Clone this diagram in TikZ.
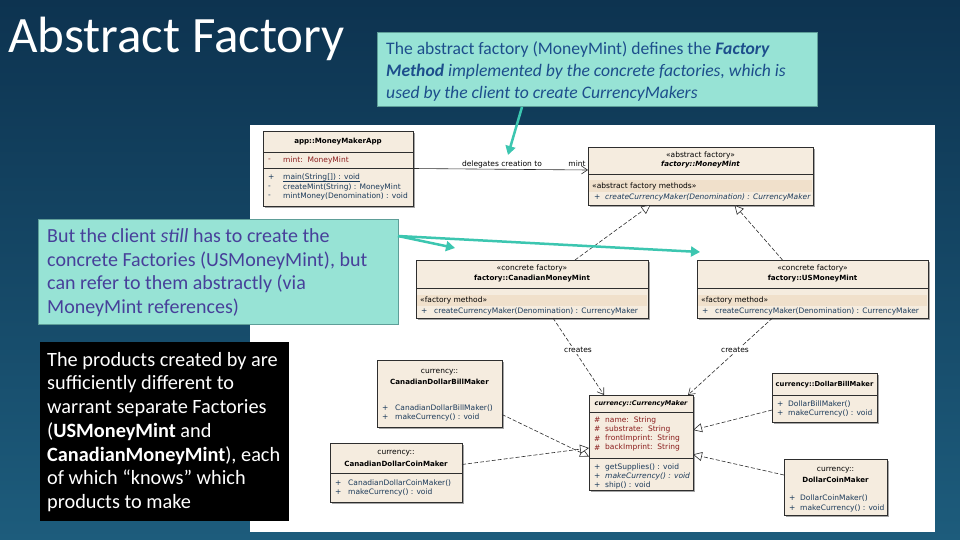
\documentclass[tikz,border=0pt]{standalone}
\usepackage{fontspec}
\setmainfont{Carlito}
\newfontfamily\umlfont{DejaVu Sans}
\usetikzlibrary{arrows.meta,shadows,calc}
\definecolor{bgdark}{HTML}{0D3350}
\definecolor{bglight}{HTML}{1D5C7C}
\definecolor{aqua}{HTML}{97E3D5}
\definecolor{aquaborder}{HTML}{5E9E98}
\definecolor{tealarrow}{HTML}{3CC6B0}
\definecolor{bluetext}{HTML}{1D4E8C}
\definecolor{purpletext}{HTML}{47409A}
\definecolor{umlfill}{HTML}{F5ECDF}
\definecolor{umlband}{HTML}{F0E0CB}
\definecolor{umlline}{HTML}{2E2E2E}
\definecolor{attrred}{HTML}{8A1C1C}
\definecolor{optext}{HTML}{1B3A5A}
\tikzset{
  umlbox/.style={draw=umlline, line width=0.6pt, fill=umlfill, inner sep=0pt, outer sep=0pt, anchor=north west,
    drop shadow={shadow xshift=2pt, shadow yshift=-2pt, fill=black!35, opacity=1}},
  umlsep/.style={draw=umlline, line width=0.6pt},
  ut/.style={font=\umlfont\fontsize{7.5}{8}\selectfont, inner sep=0pt, text=black},
  utb/.style={font=\umlfont\bfseries\fontsize{7.1}{8}\selectfont, inner sep=0pt, text=black},
  utbi/.style={font=\umlfont\bfseries\itshape\fontsize{7.1}{8}\selectfont, inner sep=0pt, text=black},
  uattr/.style={ut, text=attrred, anchor=west},
  uop/.style={ut, text=optext, anchor=west},
  uopi/.style={font=\umlfont\itshape\fontsize{7.5}{8}\selectfont, inner sep=0pt, text=optext, anchor=west},
  realize/.style={draw=umlline, line width=0.6pt, dash pattern=on 4pt off 2pt, -{Triangle[open, length=9pt, width=9pt, fill=white]}},
  depend/.style={draw=umlline, line width=0.6pt, dash pattern=on 4pt off 2pt, -{Straight Barb[length=6pt, width=8pt]}},
  assoc/.style={draw=umlline, line width=0.6pt, -{Straight Barb[length=6pt, width=8pt]}},
  callout/.style={draw=aquaborder, line width=1pt, fill=aqua, inner sep=0pt, outer sep=0pt, anchor=north west},
  tealarr/.style={draw=tealarrow, line width=2.5pt, -{Triangle[length=9pt, width=10pt]}},
  c1/.style={font=\fontsize{17.6}{21}\selectfont, text=bluetext, inner sep=0pt, anchor=base west},
  c2/.style={font=\fontsize{20}{24}\selectfont, text=purpletext, inner sep=0pt, anchor=base west},
  c3/.style={font=\fontsize{20.3}{24}\selectfont, text=white, inner sep=0pt, anchor=base west},
}
\begin{document}
\begin{tikzpicture}[x=1pt, y=-1pt]
\useasboundingbox (0,0) rectangle (960,540);
% background
\shade[top color=bgdark, bottom color=bglight] (0,0) rectangle (960,540);
\fill[white] (250,125) rectangle (935,532);

% title
\node[font=\fontsize{51}{56}\selectfont, text=white, inner sep=0pt, anchor=base west] (title) at (8,53) {Abstract Factory};

% ---------------- UML classes ----------------
% MoneyMakerApp
\node[umlbox, minimum width=150pt, minimum height=75pt] (app) at (263,131) {};
\node[utb] (appH) at (338,142) {app::MoneyMakerApp};
\draw[umlsep] (app.west |- 0,152) -- (app.east |- 0,152);
\node[uattr] (appA0) at (268,160) {-};
\node[uattr] (appA1) at (283,160) {mint:\ \ MoneyMint};
\draw[umlsep] (app.west |- 0,168) -- (app.east |- 0,168);
\node[uop] (appO0) at (268,177.5) {+};
\node[uop] (appO1) at (283,177.5) {main(String[]) : void};
\draw[draw=optext, line width=0.5pt] (appO1.south west) -- (appO1.south east);
\node[uop] (appO2) at (268,187) {-};
\node[uop] (appO3) at (283,187) {createMint(String) : MoneyMint};
\node[uop] (appO4) at (268,196) {-};
\node[uop] (appO5) at (283,196) {mintMoney(Denomination) : void};

% MoneyMint
\node[umlbox, minimum width=225pt, minimum height=58pt] (mm) at (588,147) {};
\node[ut] (mmS) at (700.5,155) {«abstract factory»};
\node[utbi] (mmH) at (700.5,165) {factory::MoneyMint};
\draw[umlsep] (mm.west |- 0,174) -- (mm.east |- 0,174);
\fill[umlband] (589,180.5) rectangle (812,192);
\node[ut, anchor=west] (mmG) at (592,186.5) {«abstract factory methods»};
\node[uop] (mmO0) at (594,197) {+};
\node[uopi] (mmO1) at (605,197) {createCurrencyMaker(Denomination) : CurrencyMaker};

% CanadianMoneyMint
\node[umlbox, minimum width=232pt, minimum height=58pt] (cmint) at (416,260) {};
\node[ut] (cmintS) at (532,268) {«concrete factory»};
\node[utb] (cmintH) at (532,279) {factory::CanadianMoneyMint};
\draw[umlsep] (cmint.west |- 0,288) -- (cmint.east |- 0,288);
\fill[umlband] (417,294.5) rectangle (647,305.5);
\node[ut, anchor=west] (cmintG) at (420,300) {«factory method»};
\node[uop] (cmintO0) at (421,311) {+};
\node[uop] (cmintO1) at (434,311) {createCurrencyMaker(Denomination) : CurrencyMaker};

% USMoneyMint
\node[umlbox, minimum width=231pt, minimum height=58pt] (usmint) at (697,260) {};
\node[ut] (usmintS) at (812.5,268) {«concrete factory»};
\node[utb] (usmintH) at (812.5,279) {factory::USMoneyMint};
\draw[umlsep] (usmint.west |- 0,288) -- (usmint.east |- 0,288);
\fill[umlband] (698,294.5) rectangle (927,305.5);
\node[ut, anchor=west] (usmintG) at (701,300) {«factory method»};
\node[uop] (usmintO0) at (702,311) {+};
\node[uop] (usmintO1) at (715,311) {createCurrencyMaker(Denomination) : CurrencyMaker};

% CurrencyMaker
\node[umlbox, minimum width=104pt, minimum height=95pt] (cm) at (589,395) {};
\node[font=\umlfont\bfseries\itshape\fontsize{6.5}{8}\selectfont, inner sep=0pt] (cmH) at (641,403.5) {currency::CurrencyMaker};
\draw[umlsep] (cm.west |- 0,412) -- (cm.east |- 0,412);
\node[uattr] (cmA0) at (594,420) {\#};
\node[uattr] (cmA1) at (605,420) {name:\ \ String};
\node[uattr] (cmA2) at (594,429) {\#};
\node[uattr] (cmA3) at (605,429) {substrate:\ \ String};
\node[uattr] (cmA4) at (594,438.5) {\#};
\node[uattr] (cmA5) at (605,438.5) {frontImprint:\ \ String};
\node[uattr] (cmA6) at (594,447.5) {\#};
\node[uattr] (cmA7) at (605,447.5) {backImprint:\ \ String};
\draw[umlsep] (cm.west |- 0,458) -- (cm.east |- 0,458);
\node[uop] (cmO0) at (594,467) {+};
\node[uop] (cmO1) at (605,467) {getSupplies() : void};
\node[uop] (cmO2) at (594,476) {+};
\node[uopi] (cmO3) at (605,476) {makeCurrency() : void};
\node[uop] (cmO4) at (594,485) {+};
\node[uop] (cmO5) at (605,485) {ship() : void};

% DollarBillMaker
\node[umlbox, minimum width=105pt, minimum height=49pt] (dbm) at (772,373) {};
\node[font=\umlfont\bfseries\fontsize{6.8}{8}\selectfont, inner sep=0pt] (dbmH) at (824.5,385) {currency::DollarBillMaker};
\draw[umlsep] (dbm.west |- 0,395) -- (dbm.east |- 0,395);
\node[uop] (dbmO0) at (777,404) {+};
\node[uop] (dbmO1) at (788,404) {DollarBillMaker()};
\node[uop] (dbmO2) at (777,413) {+};
\node[uop] (dbmO3) at (788,413) {makeCurrency() : void};

% DollarCoinMaker
\node[umlbox, minimum width=103pt, minimum height=56pt] (dcm) at (784,459) {};
\node[ut] (dcmS) at (835.5,470) {currency::};
\node[utb] (dcmH) at (835.5,480) {DollarCoinMaker};
\node[uop] (dcmO0) at (789,498) {+};
\node[uop] (dcmO1) at (800,498) {DollarCoinMaker()};
\node[uop] (dcmO2) at (789,508) {+};
\node[uop] (dcmO3) at (800,508) {makeCurrency() : void};

% CanadianDollarBillMaker
\node[umlbox, minimum width=125pt, minimum height=67pt] (cdbm) at (377,360) {};
\node[ut] (cdbmS) at (439.5,372) {currency::};
\node[utb] (cdbmH) at (439.5,382) {CanadianDollarBillMaker};
\node[uop] (cdbmO0) at (382,408.5) {+};
\node[uop] (cdbmO1) at (395,408.5) {CanadianDollarBillMaker()};
\node[uop] (cdbmO2) at (382,417.5) {+};
\node[uop] (cdbmO3) at (395,417.5) {makeCurrency() : void};

% CanadianDollarCoinMaker
\node[umlbox, minimum width=132pt, minimum height=59pt] (cdcm) at (330,443) {};
\node[ut] (cdcmS) at (396,453) {currency::};
\node[utb] (cdcmH) at (396,464) {CanadianDollarCoinMaker};
\draw[umlsep] (cdcm.west |- 0,473) -- (cdcm.east |- 0,473);
\node[uop] (cdcmO0) at (335,483) {+};
\node[uop] (cdcmO1) at (348,483) {CanadianDollarCoinMaker()};
\node[uop] (cdcmO2) at (335,492) {+};
\node[uop] (cdcmO3) at (348,492) {makeCurrency() : void};

% ---------------- UML connectors ----------------
\draw[assoc] (app.east) -- ([yshift=6pt]mm.west);
\node[ut] (lblDel) at (502,164) {delegates creation to};
\node[ut] (lblMint) at (577,164) {mint};

\draw[realize] ([xshift=43pt]cmint.north) -- ([xshift=-50pt]mm.south);
\draw[realize] ([xshift=-30pt]usmint.north) -- ([xshift=34pt]mm.south);

\draw[depend] ([xshift=21pt]cmint.south) -- ([xshift=-37pt]cm.north);
\node[ut, fill=white, inner sep=1pt] (lblCr1) at (578,350) {creates};
\draw[depend] ([xshift=-40pt]usmint.south) -- ([xshift=47pt]cm.north);
\node[ut, fill=white, inner sep=1pt] (lblCr2) at (735,350) {creates};

\draw[realize] ([yshift=-21pt]cdbm.east) -- ([yshift=-14pt]cm.west);
\draw[realize] ([yshift=8pt]cdcm.east) -- ([yshift=-5.5pt]cm.west);
\draw[realize] ([yshift=-12.5pt]dbm.west) -- ([yshift=12.5pt]cm.east);
\draw[realize] ([yshift=12pt]dcm.west) -- ([yshift=-12pt]cm.east);

% ---------------- callouts ----------------
\node[callout, minimum width=440pt, minimum height=74pt] (box1) at (377,33) {};
\node[c1] (b1l1) at (386,55) {The abstract factory (MoneyMint) defines the \textbf{\textit{Factory}}};
\node[c1] (b1l2) at (386,77) {\textbf{\textit{Method}} \textit{implemented by the concrete factories, which is}};
\node[c1] (b1l3) at (386,98.5) {\textit{used by the client to create CurrencyMakers}};
\coordinate (tip1) at (508,155);
\draw[tealarr] ([xshift=-75pt]box1.south) -- (tip1);

\node[callout, minimum width=360pt, minimum height=105pt] (box2) at (38,219) {};
\node[c2] (b2l1) at (47,242) {But the client \textit{still} has to create the};
\node[c2] (b2l2) at (47,266) {concrete Factories (USMoneyMint), but};
\node[c2] (b2l3) at (47,289) {can refer to them abstractly (via};
\node[c2] (b2l4) at (47,313) {MoneyMint references)};
\coordinate (tip2) at (455,248);
\coordinate (tip3) at (700,252);
\draw[tealarr] ([yshift=-17pt]box2.north east) -- (tip2);
\draw[tealarr] ([yshift=-17pt]box2.north east) -- (tip3);

\node[fill=black, inner sep=0pt, outer sep=0pt, anchor=north west, minimum width=249pt, minimum height=179pt] (box3) at (40,342) {};
\node[c3] (b3l1) at (47,366) {The products created by are};
\node[c3] (b3l2) at (47,389.5) {sufficiently different to};
\node[c3] (b3l3) at (47,413) {warrant separate Factories};
\node[c3] (b3l4) at (47,437) {(\textbf{USMoneyMint} and};
\node[c3] (b3l5) at (47,461) {\textbf{CanadianMoneyMint}), each};
\node[c3] (b3l6) at (47,484.5) {of which “knows” which};
\node[c3] (b3l7) at (47,508) {products to make};
\end{tikzpicture}
\end{document}
